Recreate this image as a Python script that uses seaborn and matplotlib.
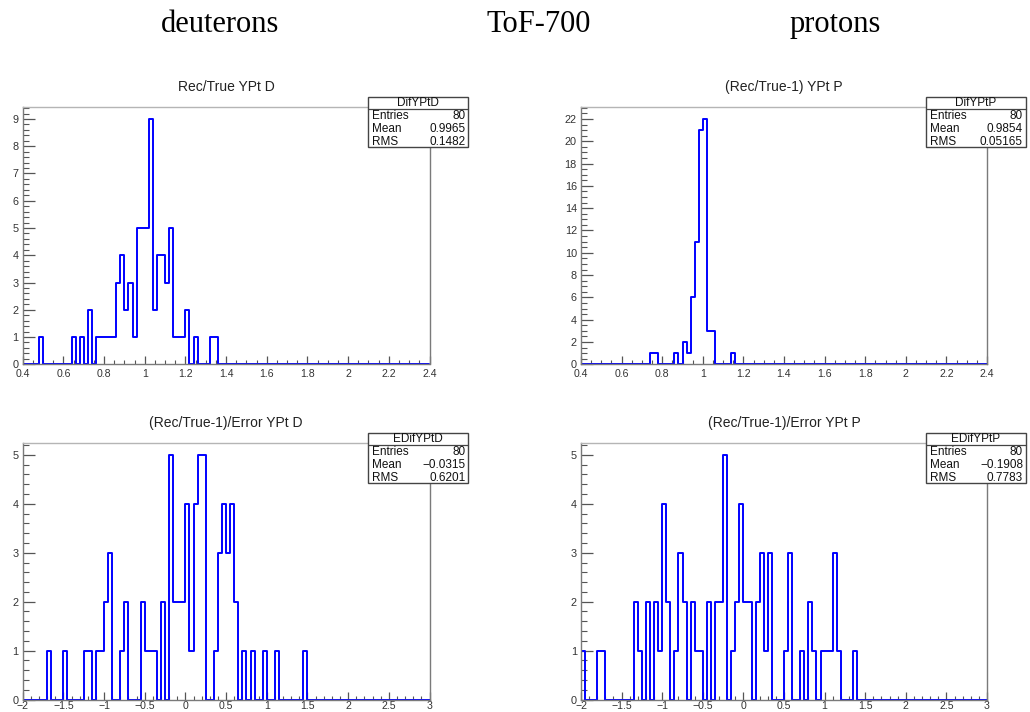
import numpy as np
import pandas as pd
import matplotlib
matplotlib.use("Agg")
import matplotlib.pyplot as plt
import seaborn as sns
from matplotlib.ticker import MultipleLocator, FuncFormatter
from matplotlib.patches import Rectangle
from matplotlib.lines import Line2D

sns.set_theme(style="white")
plt.rcParams['font.family'] = ['Liberation Sans', 'DejaVu Sans']

# ---------------- data (centres of non-empty bins, counts) ----------------
# Rec/True YPt D  (100 bins, 0.4 .. 2.4)
d_ratio_x = [0.49, 0.65, 0.69, 0.73, 0.77, 0.79, 0.81, 0.83, 0.85, 0.87, 0.89,
             0.91, 0.93, 0.95, 0.97, 0.99, 1.01, 1.03, 1.05, 1.07, 1.09, 1.11,
             1.13, 1.15, 1.17, 1.19, 1.21, 1.25, 1.33, 1.35]
d_ratio_n = [1, 1, 1, 2, 1, 1, 1, 1, 1, 3, 4,
             2, 3, 1, 5, 5, 5, 9, 2, 4, 4, 3,
             5, 1, 1, 1, 2, 1, 1, 1]

# (Rec/True-1) YPt P  (100 bins, 0.4 .. 2.4)
p_ratio_x = [0.75, 0.77, 0.87, 0.91, 0.93, 0.95, 0.97, 0.99, 1.01, 1.03, 1.05, 1.15]
p_ratio_n = [1, 1, 1, 2, 1, 6, 11, 21, 22, 3, 3, 1]

# (Rec/True-1)/Error YPt D  (100 bins, -2 .. 3) : bin index, count
d_err_bin = [6, 10, 15, 16, 18, 19, 20, 21, 24, 25, 29, 30, 31, 32, 34, 36, 37,
             38, 39, 40, 41, 42, 43, 44, 47, 48, 49, 50, 51, 52, 54, 56, 59, 62, 69]
d_err_n = [1, 1, 1, 1, 1, 1, 2, 3, 1, 2, 2, 1, 1, 1, 2, 5, 2,
           2, 2, 4, 1, 4, 5, 5, 1, 3, 4, 3, 4, 2, 1, 1, 1, 1, 1]

# (Rec/True-1)/Error YPt P  (100 bins, -2 .. 3) : bin index, count
p_err_bin = [0, 4, 5, 13, 14, 16, 18, 19, 20, 21, 23, 24, 25, 27, 28, 29, 31, 33,
             34, 35, 37, 38, 39, 40, 41, 43, 44, 45, 46, 50, 51, 54, 56, 57, 59,
             60, 61, 62, 63, 67]
p_err_n = [1, 1, 1, 2, 1, 2, 2, 1, 4, 2, 1, 3, 2, 2, 1, 1, 2, 2,
           2, 5, 1, 2, 4, 2, 2, 2, 3, 1, 3, 1, 3, 1, 2, 1, 1,
           1, 1, 3, 1, 1]

titles = ["Rec/True YPt D", "(Rec/True-1) YPt P",
          "(Rec/True-1)/Error YPt D", "(Rec/True-1)/Error YPt P"]
stat_names = ["DifYPtD", "DifYPtP", "EDifYPtD", "EDifYPtP"]
stat_entries = ["80", "80", "80", "80"]
stat_mean = ["0.9965", "0.9854", "\u22120.0315", "\u22120.1908"]
stat_rms = ["0.1482", "0.05165", "0.6201", "0.7783"]
headers = ["deuterons", "ToF-700", "protons"]

# ---------------- figure ----------------
W, H = 1030, 712
fig = plt.figure(figsize=(W / 100, H / 100), dpi=100)


def fx(px):
    return px / W


def fy(py):
    return 1 - py / H


def add_ax(x0, x1, top, bottom):
    return fig.add_axes([fx(x0), fy(bottom), fx(x1) - fx(x0), (bottom - top) / H])


fmt = FuncFormatter(lambda v, p: ("%g" % round(v, 6)).replace("-", "\u2212"))

edges_top = [float(e) for e in np.linspace(0.4, 2.4, 101)]
edges_bot = [float(e) for e in np.linspace(-2.0, 3.0, 101)]


def centres_from_bins(idx):
    return [-2.0 + 0.05 * k + 0.025 for k in idx]


panels = [
    dict(box=(22.7, 429.5, 106.7, 364.3), x=d_ratio_x, w=d_ratio_n, edges=edges_top,
         xlim=(0.4, 2.4), ymax=9 * 1.05, xmaj=0.2, xmin=0.05, ymaj=1, ymin=0.2, xpad=3.2),
    dict(box=(581, 987, 106.7, 364.3), x=p_ratio_x, w=p_ratio_n, edges=edges_top,
         xlim=(0.4, 2.4), ymax=22 * 1.05, xmaj=0.2, xmin=0.05, ymaj=2, ymin=0.5, xpad=3.2),
    dict(box=(22.7, 429.5, 442.7, 699.5), x=centres_from_bins(d_err_bin), w=d_err_n,
         edges=edges_bot, xlim=(-2, 3), ymax=5 * 1.05, xmaj=0.5, xmin=0.1, ymaj=1, ymin=0.2,
         xpad=0.8),
    dict(box=(581, 987, 442.7, 699.5), x=centres_from_bins(p_err_bin), w=p_err_n,
         edges=edges_bot, xlim=(-2, 3), ymax=5 * 1.05, xmaj=0.5, xmin=0.1, ymaj=1, ymin=0.2,
         xpad=0.8),
]

axis_col = "#7a7a7a"
for i, p in enumerate(panels):
    x0, x1, top, bottom = p["box"]
    ax = add_ax(x0, x1, top, bottom)
    df = pd.DataFrame({"x": p["x"], "n": p["w"]})
    sns.histplot(data=df, x="x", weights="n", bins=p["edges"], element="step",
                 fill=False, color="#0000ff", linewidth=1.4, ax=ax)
    ax.set_xlim(*p["xlim"])
    ax.set_ylim(0, p["ymax"])
    ax.set_xlabel("")
    ax.set_ylabel("")
    ax.xaxis.set_major_locator(MultipleLocator(p["xmaj"]))
    ax.xaxis.set_minor_locator(MultipleLocator(p["xmin"]))
    ax.yaxis.set_major_locator(MultipleLocator(p["ymaj"]))
    ax.yaxis.set_minor_locator(MultipleLocator(p["ymin"]))
    ax.xaxis.set_major_formatter(fmt)
    ax.yaxis.set_major_formatter(fmt)
    ax.tick_params(axis="x", which="major", direction="in", length=5.8, width=0.9,
                   color="#555555", labelsize=7.6, labelcolor="#333333", pad=p["xpad"],
                   bottom=True, top=False)
    ax.tick_params(axis="x", which="minor", direction="in", length=2.9, width=0.8,
                   color="#555555", bottom=True, top=False)
    ax.tick_params(axis="y", which="major", direction="in", length=8.6, width=0.9,
                   color="#555555", labelsize=7.8, labelcolor="#333333", pad=3,
                   left=True, right=False)
    ax.tick_params(axis="y", which="minor", direction="in", length=4.3, width=0.8,
                   color="#555555", left=True, right=False)
    for s in ["left", "bottom", "right"]:
        ax.spines[s].set_color(axis_col)
        ax.spines[s].set_linewidth(1.0)
    ax.spines["top"].set_color("#b5b5b5")
    ax.spines["top"].set_linewidth(1.0)
    ax.grid(False)

    # title
    fig.text(fx((x0 + x1) / 2), fy(top - 20), titles[i], ha="center", va="center",
             fontsize=10, color="#222222")

    # statistics box
    bl = 368.3 if x0 < 500 else 926
    bw = 100
    btop = top - 10
    bbot = top + 40.5
    hdr = btop + 12.5
    fig.patches.append(Rectangle((fx(bl), fy(bbot)), bw / W, (bbot - btop) / H,
                                 transform=fig.transFigure, facecolor="white",
                                 edgecolor="#444444", linewidth=1.0, zorder=10))
    fig.lines.append(Line2D([fx(bl), fx(bl + bw)], [fy(hdr), fy(hdr)],
                            transform=fig.transFigure, color="#444444",
                            linewidth=0.9, zorder=11))
    fig.text(fx(bl + bw / 2), fy(btop + 6.2), stat_names[i], ha="center", va="center",
             fontsize=8.5, color="#111111", zorder=12)
    rows = [("Entries", stat_entries[i]), ("Mean", stat_mean[i]), ("RMS", stat_rms[i])]
    for r, (lab, val) in enumerate(rows):
        yy = hdr + 7 + r * 12.7
        fig.text(fx(bl + 4), fy(yy), lab, ha="left", va="center", fontsize=8.5,
                 color="#111111", zorder=12)
        fig.text(fx(bl + bw - 3), fy(yy), val, ha="right", va="center", fontsize=8.5,
                 color="#111111", zorder=12)

# header
for txt, cx in zip(headers, [220, 539, 835]):
    fig.text(fx(cx), fy(21), txt, ha="center", va="center_baseline", fontsize=22,
             family=["Liberation Serif", "DejaVu Serif"], color="black")

fig.savefig("out.png", dpi=100, facecolor="white")
